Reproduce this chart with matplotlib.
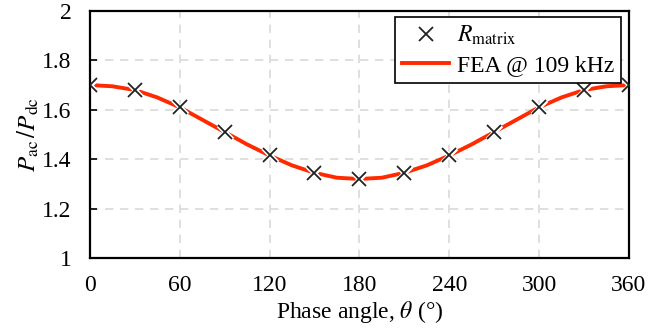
import numpy as np
import matplotlib.pyplot as plt

plt.rcParams['font.family'] = ['Liberation Serif', 'DejaVu Serif']
plt.rcParams['mathtext.fontset'] = 'stix'

# R_matrix points (every 30 deg)
theta_r = [0, 30, 60, 90, 120, 150, 180, 210, 240, 270, 300, 330, 360]
r_matrix = [1.70, 1.68, 1.61, 1.51, 1.415, 1.345, 1.32, 1.345, 1.415, 1.51, 1.61, 1.68, 1.70]

# FEA curve read every 15 deg
theta_fea = [0, 15, 30, 45, 60, 75, 90, 105, 120, 135, 150, 165, 180,
             195, 210, 225, 240, 255, 270, 285, 300, 315, 330, 345, 360]
fea = [1.70, 1.695, 1.68, 1.65, 1.61, 1.56, 1.51, 1.46, 1.415, 1.375, 1.345, 1.325, 1.32,
       1.325, 1.345, 1.375, 1.415, 1.46, 1.51, 1.56, 1.61, 1.65, 1.68, 1.695, 1.70]

fig = plt.figure(figsize=(6.6, 3.3), dpi=100)
ax = fig.add_axes([0.136, 0.218, 0.817, 0.749])

ax.plot(theta_fea, fea, color='#ff2a00', lw=2.8, label='FEA @ 109 kHz', zorder=2)
# white halo under the crosses
ax.plot(theta_r, r_matrix, 'x', color='white', ms=10, mew=3.5, zorder=2.5)
ax.plot(theta_r, r_matrix, 'x', color='#222222', ms=10, mew=1.3,
        label=r'$R_{\mathrm{matrix}}$', zorder=3)

ax.set_xlim(0, 360)
ax.set_ylim(1, 2)
ax.set_xticks(range(0, 361, 60))
ax.set_yticks([1, 1.2, 1.4, 1.6, 1.8, 2])
ax.set_yticklabels(['1', '1.2', '1.4', '1.6', '1.8', '2'])
ax.grid(True, color='#d9d9d9', ls=(0, (5, 4)), lw=1.2)
ax.set_axisbelow(True)
ax.tick_params(axis='y', direction='in', length=5, width=1.2, labelsize=17, pad=13)
ax.tick_params(axis='x', length=0, labelsize=17, pad=12)
for s in ax.spines.values():
    s.set_linewidth(1.6)

ax.set_xlabel(r'Phase angle, $\theta$ (°)', fontsize=17, labelpad=2)
ax.set_ylabel(r'$P_{\mathrm{ac}}\,/P_{\mathrm{dc}}$', fontsize=18, labelpad=1)

h, l = ax.get_legend_handles_labels()
leg = ax.legend(h[::-1], l[::-1], loc='upper right', fontsize=17, fancybox=False,
                edgecolor='black', framealpha=1, borderpad=0.3, handlelength=2.0,
                handletextpad=0.3, labelspacing=0.3, bbox_to_anchor=(0.985, 0.975),
                borderaxespad=0)
leg.get_frame().set_linewidth(1.2)

fig.savefig('out.png', dpi=100)
